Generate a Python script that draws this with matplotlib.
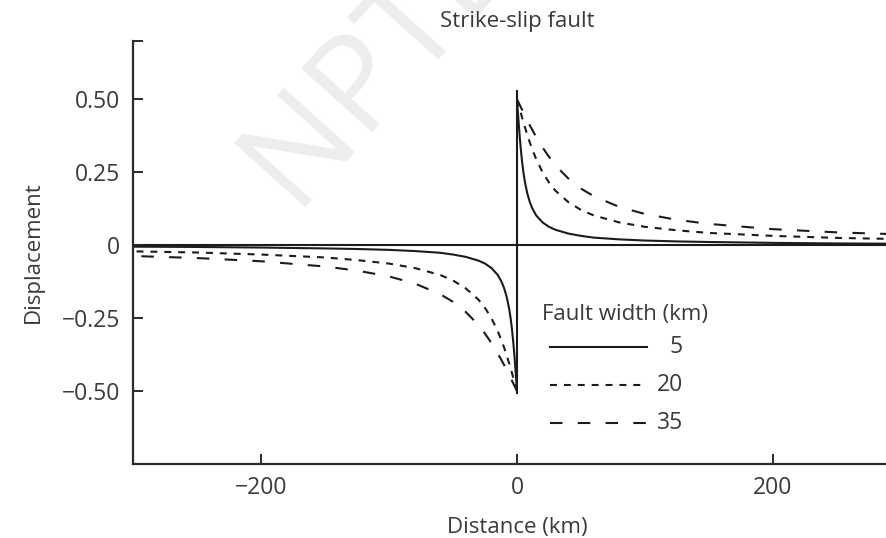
import matplotlib
matplotlib.use("Agg")
import matplotlib.pyplot as plt
from matplotlib.lines import Line2D

plt.rcParams['font.family'] = ['Open Sans', 'DejaVu Sans']
plt.rcParams['lines.scale_dashes'] = False

# Distance from the fault trace (km), fault-parallel displacement (fraction of slip)
distance = [0, 0.5, 1, 2, 3, 4, 5, 6, 8, 10, 12, 15, 20, 25, 30, 40, 50,
            60, 80, 100, 125, 150, 200, 250, 300]
disp_w5 = [0.500, 0.468, 0.437, 0.379, 0.328, 0.285, 0.250, 0.221, 0.178,
           0.148, 0.126, 0.102, 0.078, 0.063, 0.053, 0.040, 0.032, 0.026,
           0.020, 0.016, 0.013, 0.011, 0.008, 0.006, 0.005]
disp_w20 = [0.500, 0.492, 0.484, 0.468, 0.453, 0.437, 0.422, 0.407, 0.379,
            0.352, 0.328, 0.295, 0.250, 0.215, 0.187, 0.148, 0.121, 0.102,
            0.078, 0.063, 0.051, 0.042, 0.032, 0.025, 0.021]
disp_w35 = [0.500, 0.495, 0.491, 0.482, 0.473, 0.464, 0.455, 0.446, 0.428,
            0.411, 0.395, 0.371, 0.335, 0.303, 0.274, 0.229, 0.194, 0.168,
            0.131, 0.107, 0.087, 0.073, 0.055, 0.044, 0.037]
fault_widths = ["5", "20", "35"]

x_ticks = [-200, 0, 200]
x_tick_labels = ["\u2212200", "0", "200"]
y_ticks = [-0.50, -0.25, 0, 0.25, 0.50]
y_tick_labels = ["\u22120.50", "\u22120.25", "0", "0.25", "0.50"]

ink = "#1c1c1c"
text_col = "#3a3a3a"
styles = ["-", (0, (5.0, 5.0)), (0, (9.0, 11.0))]
series = [disp_w5, disp_w20, disp_w35]

fig = plt.figure(figsize=(8.87, 5.38), dpi=100)

# faint watermark behind the plot
fig.text(293 / 887, 1 - 207 / 538, "NPTEL", rotation=48, rotation_mode="anchor",
         ha="left", va="baseline", fontsize=96, color="#ededed", zorder=-5)

ax = fig.add_axes([133 / 887, 74 / 538, 768 / 887, 423 / 538])
ax.patch.set_alpha(0)
ax.set_xlim(-300, 300)
ax.set_ylim(-0.75, 0.70)

for vals, ls in zip(series, styles):
    ax.plot(distance, vals, color=ink, lw=1.5, linestyle=ls, solid_capstyle="butt")
    ax.plot([-d for d in distance], [-v for v in vals], color=ink, lw=1.5,
            linestyle=ls, solid_capstyle="butt")

# reference axes through the origin
ax.axhline(0, color=ink, lw=1.5, zorder=1)
ax.plot([0, 0], [-0.505, 0.527], color=ink, lw=1.5)

for side in ("top", "right"):
    ax.spines[side].set_visible(False)
for side in ("left", "bottom"):
    ax.spines[side].set_linewidth(1.6)
    ax.spines[side].set_color("#2a2a2a")

ax.set_xticks(x_ticks)
ax.set_xticklabels(x_tick_labels)
ax.set_yticks(y_ticks)
ax.set_yticklabels(y_tick_labels)
ax.set_yticks([0.70], minor=True)
ax.tick_params(which="both", direction="in", length=7, width=1.4,
               color="#2a2a2a", labelsize=16.5, labelcolor=text_col, pad=9)

ax.set_xlabel("Distance (km)", fontsize=16, color=text_col, labelpad=12)
ax.set_ylabel("Displacement", fontsize=16, color=text_col, labelpad=13)
fig.text(517 / 887, 1 - 21 / 538, "Strike-slip fault", ha="center", va="center",
         fontsize=16, color=text_col)

# key for fault widths
ax.text(0.5326, 0.3546, "Fault width (km)", transform=ax.transAxes,
        ha="left", va="center", fontsize=16, color=text_col)
rows = [0.2766, 0.1868, 0.0969]
for ls, lab, yy in zip(styles, fault_widths, rows):
    ax.add_line(Line2D([0.543, 0.669], [yy, yy], transform=ax.transAxes,
                       color=ink, lw=1.5, linestyle=ls))
    ax.text(0.716, yy, lab, transform=ax.transAxes, ha="right", va="center",
            fontsize=16.5, color=text_col)

fig.savefig("out.png", dpi=100)
